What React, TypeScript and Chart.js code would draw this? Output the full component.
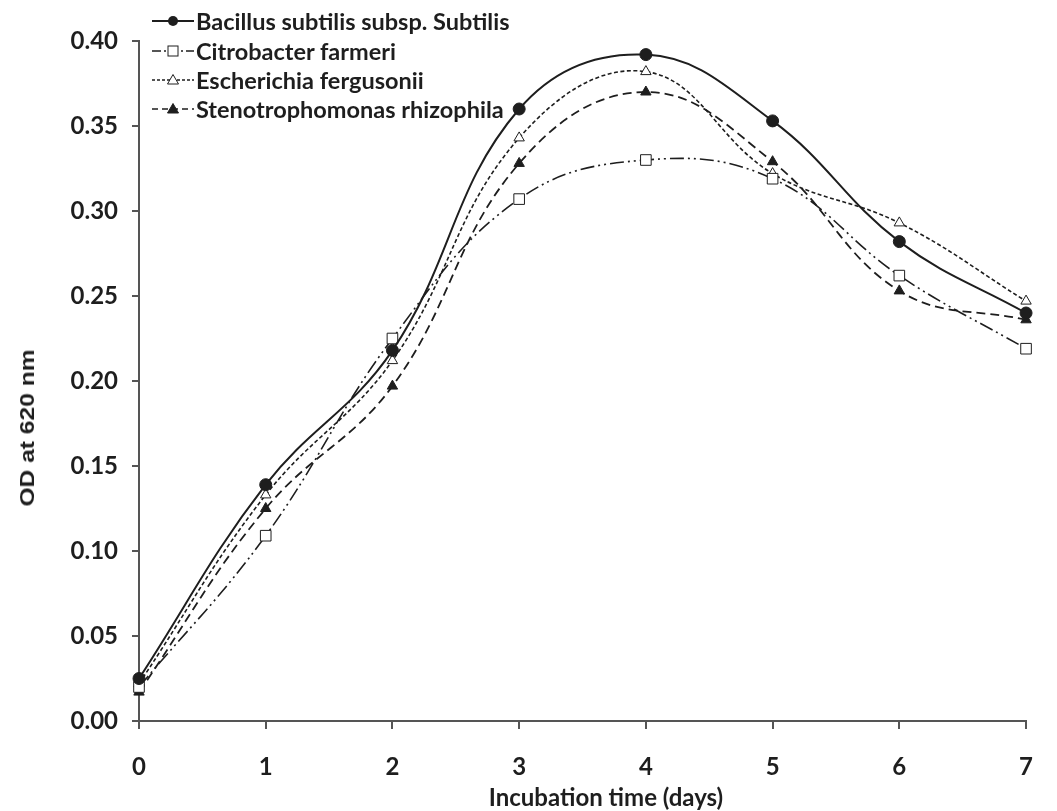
import React, { useEffect, useRef } from "react";
import { Chart, registerables } from "chart.js";

Chart.register(...registerables);

const days = [0, 1, 2, 3, 4, 5, 6, 7];
const bacillus = [0.025, 0.139, 0.218, 0.36, 0.392, 0.353, 0.282, 0.24];
const citrobacter = [0.02, 0.109, 0.225, 0.307, 0.33, 0.319, 0.262, 0.219];
const escherichia = [0.022, 0.133, 0.212, 0.343, 0.382, 0.322, 0.293, 0.247];
const stenotrophomonas = [0.017, 0.125, 0.197, 0.328, 0.37, 0.329, 0.253, 0.236];
const seriesNames = [
  "Bacillus subtilis subsp. Subtilis",
  "Citrobacter farmeri",
  "Escherichia fergusonii",
  "Stenotrophomonas rhizophila",
];

const INK = "#1e1e1e";
const AXIS = "#555555";
const FONT = "Lato";

const toPoints = (vals: number[]) => days.map((d, i) => ({ x: d, y: vals[i] }));

function LegendSymbol({ kind }: { kind: number }) {
  const dash = [undefined, "9 3 2 3", "3 2", "6 4"][kind];
  return (
    <svg width={44} height={20} style={{ display: "block" }}>
      <line x1={1} y1={10} x2={43} y2={10} stroke={INK} strokeWidth={kind === 0 ? 2 : 1.5} strokeDasharray={dash} />
      {kind === 0 && <circle cx={22} cy={10} r={5} fill={INK} />}
      {kind === 1 && <rect x={17} y={5} width={10} height={10} fill="#fff" stroke={INK} strokeWidth={1} />}
      {kind === 2 && <polygon points="22,4.5 27.5,14 16.5,14" fill="#fff" stroke={INK} strokeWidth={1} />}
      {kind === 3 && <polygon points="22,4.5 27.5,14 16.5,14" fill={INK} stroke={INK} strokeWidth={1} />}
    </svg>
  );
}

export default function App() {
  const ref = useRef<HTMLCanvasElement>(null);

  useEffect(() => {
    let chart: Chart | null = null;
    let cancelled = false;
    const make = () => {
      if (cancelled || !ref.current) return;
      const common = { showLine: true, tension: 0.4, clip: false as any, borderColor: INK, pointBorderColor: INK };
      chart = new Chart(ref.current, {
        type: "scatter",
        data: {
          datasets: [
            {
              ...common,
              label: seriesNames[0],
              data: toPoints(bacillus),
              borderWidth: 2,
              pointStyle: "circle",
              pointRadius: 6,
              pointBackgroundColor: INK,
              pointBorderWidth: 1,
            },
            {
              ...common,
              label: seriesNames[1],
              data: toPoints(citrobacter),
              borderWidth: 1.6,
              borderDash: [14, 4, 2, 4, 2, 4],
              pointStyle: "rect",
              pointRadius: 7.5,
              pointBackgroundColor: "#ffffff",
              pointBorderWidth: 1,
            },
            {
              ...common,
              label: seriesNames[2],
              data: toPoints(escherichia),
              borderWidth: 1.6,
              borderDash: [4, 2.5],
              pointStyle: "triangle",
              pointRadius: 6,
              pointBackgroundColor: "#ffffff",
              pointBorderWidth: 1,
            },
            {
              ...common,
              label: seriesNames[3],
              data: toPoints(stenotrophomonas),
              borderWidth: 1.8,
              borderDash: [9, 5],
              pointStyle: "triangle",
              pointRadius: 6,
              pointBackgroundColor: INK,
              pointBorderWidth: 1,
            },
          ],
        },
        options: {
          responsive: false,
          animation: false,
          devicePixelRatio: 1,
          layout: { padding: { left: 0, top: 41, right: 7, bottom: 0 } },
          plugins: { legend: { display: false }, tooltip: { enabled: false }, title: { display: false } },
          scales: {
            x: {
              type: "linear",
              min: 0,
              max: 7,
              afterFit: (s: any) => {
                s.height = 90;
              },
              ticks: {
                stepSize: 1,
                color: INK,
                padding: 24,
                font: { family: FONT, size: 24, weight: "bold" },
              },
              grid: { drawOnChartArea: false, drawTicks: true, tickLength: 8, color: AXIS, lineWidth: 2 },
              border: { display: true, color: AXIS, width: 2 },
            },
            y: {
              type: "linear",
              min: 0,
              max: 0.4,
              afterFit: (s: any) => {
                s.width = 139;
              },
              ticks: {
                stepSize: 0.05,
                color: INK,
                padding: 14,
                font: { family: FONT, size: 24, weight: "bold" },
                callback: (v: any) => Number(v).toFixed(2),
              },
              grid: { drawOnChartArea: false, drawTicks: true, tickLength: 7, color: AXIS, lineWidth: 2 },
              border: { display: true, color: AXIS, width: 2 },
            },
          },
        },
      });
    };
    if ((document as any).fonts && (document as any).fonts.load) {
      Promise.all([
        (document as any).fonts.load(`bold 24px ${FONT}`),
        (document as any).fonts.load(`bold 21px "Liberation Sans"`),
      ]).then(make, make);
    } else {
      make();
    }
    return () => {
      cancelled = true;
      if (chart) chart.destroy();
    };
  }, []);

  const rowCenters = [21, 51, 80, 109];

  return (
    <div style={{ position: "absolute", left: 0, top: 0, width: 1057, height: 811, background: "#fff" }}>
      <canvas ref={ref} width={1057} height={811} style={{ position: "absolute", left: 0, top: 0 }} />
      {seriesNames.map((name, i) => (
        <div
          key={name}
          style={{
            position: "absolute",
            left: 151,
            top: rowCenters[i] - 14,
            height: 28,
            display: "flex",
            alignItems: "center",
            whiteSpace: "nowrap",
          }}
        >
          <LegendSymbol kind={i} />
          <span
            style={{
              marginLeft: 1,
              fontFamily: FONT,
              fontWeight: 700,
              fontSize: 23.5,
              lineHeight: "28px",
              color: INK,
            }}
          >
            {name}
          </span>
        </div>
      ))}
      <div style={{ position: "absolute", left: 27, top: 428, width: 0, height: 0 }}>
        <div
          style={{
            position: "absolute",
            left: 0,
            top: 0,
            transform: "translate(-50%, -50%) rotate(-90deg) scale(1.17, 1)",
            fontFamily: '"Liberation Sans", Arial, sans-serif',
            fontWeight: 700,
            fontSize: 21,
            lineHeight: "24px",
            whiteSpace: "nowrap",
            color: INK,
          }}
        >
          OD at 620 nm
        </div>
      </div>
      <div style={{ position: "absolute", left: 606, top: 797, width: 0, height: 0 }}>
        <div
          style={{
            position: "absolute",
            left: 0,
            top: 0,
            transform: "translate(-50%, -50%)",
            fontFamily: FONT,
            fontWeight: 700,
            fontSize: 24,
            lineHeight: "28px",
            whiteSpace: "nowrap",
            color: INK,
          }}
        >
          Incubation time (days)
        </div>
      </div>
    </div>
  );
}
